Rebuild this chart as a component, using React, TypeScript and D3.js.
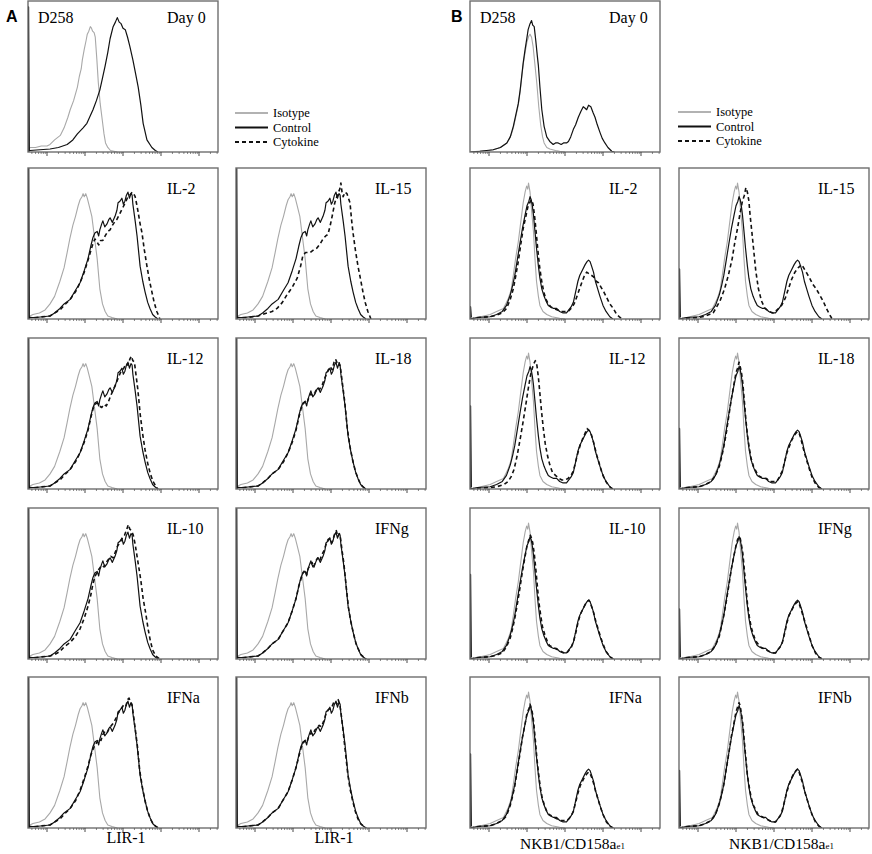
import * as d3 from 'd3';

type Pt = [number, number]; // [log10 fluorescence, % of max count]

// ---- panel A: LIR-1 ----
const lirIsoDay0: Pt[] = [[-0.5,0],[-0.45,3],[-0.3,3],[-0.15,4],[0,4],[0.08,5],[0.2,8],[0.35,11],[0.45,16],[0.55,23],[0.61,28],[0.7,34],[0.8,43],[0.85,50],[0.9,55],[0.93,61],[0.98,68],[1.03,74],[1.06,78],[1.1,80],[1.14,83],[1.17,82],[1.2,80],[1.24,79],[1.27,76],[1.31,62],[1.35,46],[1.4,32],[1.46,20],[1.5,12],[1.54,6],[1.6,3],[1.67,1],[1.85,0]];
const lirCtrlDay0: Pt[] = [[-0.5,0],[-0.45,1],[0.08,2],[0.3,3],[0.53,5],[0.68,8],[0.8,12],[0.95,16],[1.05,19],[1.21,28],[1.3,34],[1.39,41],[1.46,49],[1.53,57],[1.6,66],[1.66,75],[1.74,83],[1.8,86],[1.85,89],[1.9,86],[1.95,85],[2.0,82],[2.06,81],[2.12,76],[2.18,70],[2.26,61],[2.33,52],[2.4,43],[2.47,31],[2.53,19],[2.63,8],[2.76,3],[2.85,1],[2.92,0]];
const lirIso: Pt[] = [[-0.5,0],[-0.45,2],[-0.37,3],[-0.2,4],[-0.05,6],[0.08,10],[0.2,15],[0.34,25],[0.45,34],[0.53,44],[0.6,53],[0.68,62],[0.75,68],[0.82,75],[0.87,79],[0.92,81],[0.95,83],[0.98,81],[1.02,83],[1.06,80],[1.1,76],[1.18,68],[1.25,54],[1.32,40],[1.39,20],[1.46,10],[1.53,5],[1.6,2],[1.71,1],[1.85,0]];
const lirCtrl: Pt[] = [[-0.5,0],[-0.45,1],[-0.3,1],[0.08,2],[0.2,4],[0.34,7],[0.45,10],[0.61,13],[0.75,19],[0.87,24],[0.98,32],[1.08,40],[1.15,48],[1.21,54],[1.26,57],[1.32,58],[1.36,55],[1.39,59],[1.44,63],[1.47,65],[1.52,61],[1.58,63],[1.63,66],[1.66,67],[1.72,64],[1.79,68],[1.84,72],[1.87,77],[1.92,78],[1.97,80],[2.01,76],[2.05,78],[2.09,82],[2.13,84],[2.17,80],[2.21,83],[2.24,82],[2.26,76],[2.32,65],[2.37,55],[2.45,35],[2.52,25],[2.58,18],[2.65,11],[2.71,7],[2.78,3],[2.84,1.5],[2.92,0]];
const lirIL2: Pt[] = [[-0.5,0],[-0.45,1],[-0.3,1],[0.08,2],[0.2,4],[0.34,6],[0.45,9],[0.61,13],[0.75,18],[0.87,24],[0.98,31],[1.08,39],[1.15,45],[1.21,50],[1.26,53],[1.32,51],[1.36,49],[1.41,52],[1.47,52],[1.53,55],[1.6,58],[1.66,59],[1.72,62],[1.8,65],[1.84,66],[1.92,70],[2.0,74],[2.06,77],[2.13,81],[2.18,82],[2.24,84],[2.28,83],[2.32,81],[2.36,76],[2.39,72],[2.45,63],[2.5,57],[2.56,46],[2.63,35],[2.7,25],[2.76,18],[2.82,11],[2.89,5],[2.94,2],[2.97,0]];
const lirIL15: Pt[] = [[-0.5,0],[-0.45,1],[-0.2,1],[0.08,2],[0.32,4],[0.45,5],[0.58,7],[0.72,11],[0.84,16],[0.98,21],[1.11,27],[1.2,35],[1.26,42],[1.33,44],[1.45,44],[1.55,46],[1.63,47],[1.72,50],[1.79,53],[1.86,55],[1.92,56],[1.98,62],[2.03,68],[2.1,77],[2.18,83],[2.23,86],[2.26,90],[2.29,84],[2.32,81],[2.37,84],[2.42,83],[2.46,80],[2.5,77],[2.54,66],[2.58,57],[2.64,46],[2.71,35],[2.78,26],[2.84,18],[2.9,11],[2.97,5],[3.02,2],[3.05,0]];
const lirIL12: Pt[] = [[-0.5,0],[-0.45,1],[-0.3,1],[0.08,2],[0.2,4],[0.34,6],[0.45,9],[0.61,13],[0.75,18],[0.87,24],[0.98,31],[1.08,39],[1.15,47],[1.21,53],[1.26,56],[1.32,57],[1.38,55],[1.44,54],[1.5,56],[1.56,55],[1.62,58],[1.68,62],[1.75,66],[1.82,70],[1.88,74],[1.95,78],[2.02,80],[2.08,83],[2.13,82],[2.18,86],[2.22,88],[2.26,85],[2.3,84],[2.34,76],[2.39,66],[2.45,50],[2.52,36],[2.58,26],[2.65,17],[2.72,10],[2.79,5],[2.86,2],[2.92,0]];
const lirIL18: Pt[] = [[-0.5,0],[-0.45,1],[-0.3,1],[0.08,2],[0.2,4],[0.34,7],[0.45,10],[0.61,13],[0.75,18],[0.87,24],[0.98,31],[1.08,39],[1.15,47],[1.21,53],[1.26,56],[1.32,58],[1.37,57],[1.41,60],[1.46,63],[1.52,62],[1.58,64],[1.64,67],[1.7,66],[1.77,69],[1.83,73],[1.88,76],[1.93,79],[1.98,81],[2.03,79],[2.08,84],[2.12,86],[2.17,83],[2.21,84],[2.25,80],[2.3,70],[2.36,58],[2.43,40],[2.5,28],[2.57,19],[2.64,12],[2.71,7],[2.78,3],[2.86,1],[2.94,0]];
const lirIL10: Pt[] = [[-0.5,0],[-0.45,1],[-0.3,1],[0.08,2],[0.2,3],[0.34,5],[0.45,8],[0.61,11],[0.75,15],[0.87,20],[0.98,27],[1.08,35],[1.15,42],[1.21,50],[1.27,55],[1.33,58],[1.38,60],[1.44,62],[1.5,61],[1.56,64],[1.62,66],[1.68,68],[1.74,67],[1.8,71],[1.86,75],[1.92,77],[1.98,80],[2.04,82],[2.1,86],[2.14,89],[2.18,86],[2.22,85],[2.27,82],[2.32,76],[2.37,68],[2.42,60],[2.47,52],[2.53,40],[2.6,30],[2.66,20],[2.72,12],[2.78,6],[2.86,2],[2.97,0]];
const lirIFNg: Pt[] = [[-0.5,0],[-0.45,1],[-0.3,1],[0.08,2],[0.2,4],[0.34,7],[0.45,10],[0.61,13],[0.75,19],[0.87,24],[0.98,32],[1.08,40],[1.15,48],[1.21,53],[1.26,57],[1.32,59],[1.36,56],[1.4,60],[1.45,62],[1.5,64],[1.55,61],[1.6,65],[1.65,67],[1.7,65],[1.76,69],[1.82,72],[1.87,76],[1.92,79],[1.97,80],[2.02,77],[2.06,80],[2.1,83],[2.14,85],[2.18,81],[2.22,83],[2.25,80],[2.29,72],[2.34,63],[2.4,48],[2.46,34],[2.52,25],[2.59,17],[2.66,10],[2.73,6],[2.8,2.5],[2.87,1],[2.93,0]];
const lirIFNa: Pt[] = [[-0.5,0],[-0.45,1],[-0.3,1],[0.08,2],[0.2,4],[0.34,6],[0.45,9],[0.61,13],[0.75,18],[0.87,25],[0.98,33],[1.08,41],[1.15,48],[1.21,52],[1.26,55],[1.32,57],[1.37,59],[1.42,58],[1.47,62],[1.53,64],[1.58,63],[1.64,66],[1.7,68],[1.76,70],[1.82,73],[1.87,76],[1.93,78],[1.98,80],[2.03,82],[2.08,81],[2.12,85],[2.16,86],[2.2,83],[2.24,81],[2.28,74],[2.33,64],[2.38,54],[2.44,38],[2.51,27],[2.58,18],[2.65,11],[2.72,6],[2.8,2.5],[2.87,1],[2.93,0]];
const lirIFNb: Pt[] = [[-0.5,0],[-0.45,1],[-0.3,1],[0.08,2],[0.2,4],[0.34,7],[0.45,10],[0.61,13],[0.75,19],[0.87,24],[0.98,32],[1.08,40],[1.15,47],[1.21,53],[1.26,56],[1.32,58],[1.37,57],[1.42,61],[1.47,63],[1.52,62],[1.58,65],[1.63,66],[1.69,68],[1.75,67],[1.81,71],[1.86,75],[1.92,78],[1.97,79],[2.02,80],[2.07,83],[2.11,84],[2.15,82],[2.19,85],[2.23,82],[2.27,75],[2.32,64],[2.38,50],[2.44,36],[2.5,26],[2.57,18],[2.64,11],[2.71,6],[2.79,2.5],[2.87,1],[2.93,0]];

// ---- panel B: NKB1 ----
const nkbIsoDay0: Pt[] = [[-0.5,0],[-0.3,0.5],[0,1],[0.11,1.5],[0.3,3],[0.47,6],[0.58,11],[0.64,16],[0.72,25],[0.77,31],[0.82,40],[0.86,49],[0.9,58],[0.95,66],[1.0,73],[1.05,77],[1.08,78],[1.12,76],[1.16,70],[1.2,60],[1.26,45],[1.31,30],[1.36,18],[1.41,10],[1.45,6],[1.52,3],[1.6,2],[1.75,1],[1.86,0.5],[2.0,0]];
const nkbCtrlDay0: Pt[] = [[-0.5,0],[-0.24,0.5],[0.11,1.5],[0.3,3],[0.47,6],[0.56,10],[0.64,17],[0.7,24],[0.77,32],[0.82,41],[0.86,50],[0.9,59],[0.95,68],[1.0,76],[1.03,81],[1.08,85],[1.12,87],[1.15,84],[1.19,83],[1.23,74],[1.27,64],[1.3,57],[1.34,43],[1.39,28],[1.45,17],[1.52,10],[1.6,7],[1.69,5],[1.75,6],[1.82,6],[1.9,5],[1.96,6],[2.04,6],[2.09,7],[2.15,10],[2.22,15],[2.28,18],[2.35,23],[2.42,27],[2.48,30],[2.53,29],[2.57,28],[2.62,31],[2.68,30],[2.74,26],[2.79,23],[2.85,18],[2.92,13],[2.98,9],[3.05,6],[3.13,3],[3.23,0.5],[3.3,0]];
const nkbIso: Pt[] = [[-0.5,0],[-0.3,1],[0.03,3],[0.2,5],[0.38,7],[0.5,13],[0.58,19],[0.64,29],[0.7,40],[0.77,51],[0.82,61],[0.86,69],[0.9,77],[0.95,84],[0.99,88],[1.02,86],[1.04,90],[1.08,84],[1.12,72],[1.17,58],[1.21,40],[1.25,25],[1.3,15],[1.34,9],[1.42,5],[1.52,3],[1.65,1.5],[1.86,0.5],[2.0,0]];
const nkbCtrl: Pt[] = [[-0.5,0],[-0.3,1],[0.03,1.5],[0.2,3],[0.35,5],[0.46,9],[0.56,16],[0.62,22],[0.68,29],[0.75,40],[0.82,51],[0.88,60],[0.95,69],[1.0,75],[1.05,78],[1.08,81],[1.11,79],[1.14,75],[1.17,69],[1.21,58],[1.25,47],[1.3,35],[1.34,27],[1.39,20],[1.45,15],[1.5,12],[1.56,9],[1.62,8],[1.7,7],[1.78,7],[1.86,5],[1.95,4],[2.04,4],[2.1,6],[2.16,8],[2.22,11],[2.28,18],[2.34,25],[2.39,29],[2.45,32],[2.53,36],[2.58,38],[2.62,39],[2.66,38],[2.7,35],[2.75,31],[2.8,25],[2.86,20],[2.92,15],[3.0,9],[3.08,5],[3.18,1.5],[3.26,0]];
const nkbIL2: Pt[] = [[-0.5,0],[-0.3,1],[0.03,1.5],[0.2,2.5],[0.35,4],[0.46,7],[0.56,13],[0.64,20],[0.7,28],[0.77,38],[0.84,50],[0.9,60],[0.97,68],[1.02,74],[1.07,77],[1.12,79],[1.16,76],[1.2,68],[1.24,58],[1.28,47],[1.33,35],[1.38,26],[1.44,18],[1.5,13],[1.56,10],[1.63,8],[1.7,7],[1.8,6],[1.9,5],[2.0,5],[2.08,5],[2.16,7],[2.24,10],[2.3,14],[2.37,19],[2.44,24],[2.5,28],[2.57,31],[2.63,30],[2.69,29],[2.75,28],[2.82,25],[2.88,24],[2.95,21],[3.02,18],[3.1,14],[3.18,10],[3.27,7],[3.36,3],[3.45,1],[3.52,0]];
const nkbIL15: Pt[] = [[-0.5,0],[-0.3,0.5],[0.03,1],[0.2,2],[0.4,4],[0.58,12],[0.7,20],[0.8,29],[0.9,40],[0.97,51],[1.04,60],[1.1,69],[1.16,77],[1.22,82],[1.26,87],[1.3,84],[1.34,78],[1.37,69],[1.42,57],[1.46,47],[1.52,32],[1.59,20],[1.67,12],[1.76,7],[1.86,5],[1.98,4],[2.08,6],[2.2,9],[2.3,14],[2.38,20],[2.46,26],[2.55,31],[2.64,34],[2.73,36],[2.8,33],[2.87,30],[2.94,27],[3.02,23],[3.11,20],[3.2,16],[3.29,12],[3.38,7],[3.46,3],[3.52,0.5],[3.58,0]];
const nkbIL12: Pt[] = [[-0.5,0],[-0.3,0.5],[0.03,1],[0.2,1.5],[0.4,3],[0.5,5],[0.58,8],[0.66,13],[0.74,22],[0.82,33],[0.9,45],[0.97,56],[1.03,66],[1.09,75],[1.14,80],[1.18,83],[1.22,85],[1.26,82],[1.3,74],[1.34,63],[1.38,52],[1.43,40],[1.48,30],[1.54,22],[1.6,16],[1.67,11],[1.75,9],[1.84,7],[1.92,6],[2.0,6],[2.08,7],[2.16,9],[2.22,12],[2.28,18],[2.34,24],[2.4,29],[2.46,33],[2.53,37],[2.58,40],[2.63,39],[2.68,37],[2.73,33],[2.78,28],[2.84,22],[2.9,17],[2.97,11],[3.05,6],[3.14,2.5],[3.22,0.5],[3.28,0]];
const nkbIL18: Pt[] = [[-0.5,0],[-0.3,1],[0.03,1.5],[0.2,3],[0.35,5],[0.46,9],[0.56,15],[0.62,21],[0.68,28],[0.75,38],[0.82,50],[0.88,60],[0.95,70],[1.0,77],[1.04,80],[1.08,84],[1.12,80],[1.15,76],[1.18,70],[1.22,58],[1.26,46],[1.3,36],[1.35,27],[1.4,20],[1.46,15],[1.52,12],[1.58,9],[1.65,8],[1.72,7],[1.8,7],[1.88,5],[1.96,5],[2.04,5],[2.1,6],[2.16,9],[2.22,12],[2.28,18],[2.34,24],[2.4,28],[2.46,32],[2.52,35],[2.58,37],[2.62,38],[2.66,37],[2.7,34],[2.75,29],[2.8,24],[2.86,19],[2.92,14],[3.0,8],[3.08,4],[3.18,1],[3.26,0]];
const nkbIL10: Pt[] = [[-0.5,0],[-0.3,1],[0.03,1.5],[0.2,2.5],[0.35,4],[0.46,8],[0.56,14],[0.62,20],[0.68,27],[0.75,37],[0.82,48],[0.88,58],[0.95,68],[1.0,75],[1.05,79],[1.09,82],[1.12,80],[1.15,77],[1.19,70],[1.23,60],[1.27,49],[1.31,38],[1.36,29],[1.41,21],[1.47,16],[1.53,12],[1.59,9],[1.66,8],[1.74,7],[1.82,6],[1.9,5],[1.98,4],[2.05,4],[2.11,6],[2.17,8],[2.23,12],[2.29,18],[2.35,25],[2.41,30],[2.47,33],[2.53,36],[2.58,38],[2.63,39],[2.67,37],[2.71,34],[2.76,30],[2.81,25],[2.87,20],[2.93,15],[3.0,10],[3.08,5],[3.18,1.5],[3.27,0]];
const nkbIFNg: Pt[] = [[-0.5,0],[-0.3,1],[0.03,1.5],[0.2,3],[0.35,5],[0.46,9],[0.56,15],[0.62,22],[0.68,29],[0.75,39],[0.82,50],[0.88,60],[0.95,69],[1.0,75],[1.04,79],[1.08,81],[1.11,80],[1.14,76],[1.18,70],[1.22,59],[1.26,48],[1.3,37],[1.35,28],[1.4,21],[1.46,16],[1.52,12],[1.58,10],[1.64,8],[1.72,7],[1.8,6],[1.88,5],[1.96,4],[2.04,4],[2.1,6],[2.16,8],[2.22,11],[2.28,17],[2.34,24],[2.4,29],[2.46,32],[2.52,35],[2.58,37],[2.63,38],[2.67,36],[2.71,33],[2.76,29],[2.81,25],[2.87,20],[2.93,15],[3.0,9],[3.09,4],[3.19,1],[3.27,0]];
const nkbIFNa: Pt[] = [[-0.5,0],[-0.3,1],[0.03,1.5],[0.2,3],[0.35,5],[0.46,8],[0.56,15],[0.62,21],[0.68,28],[0.75,39],[0.82,50],[0.88,60],[0.95,69],[1.0,76],[1.05,79],[1.08,82],[1.12,79],[1.15,75],[1.18,69],[1.22,58],[1.26,46],[1.31,35],[1.35,27],[1.4,20],[1.46,15],[1.52,11],[1.58,9],[1.65,8],[1.72,7],[1.8,6],[1.88,5],[1.96,5],[2.04,5],[2.1,6],[2.16,8],[2.22,11],[2.28,17],[2.34,23],[2.4,28],[2.46,31],[2.52,34],[2.58,36],[2.62,37],[2.66,36],[2.71,33],[2.76,29],[2.81,24],[2.87,19],[2.93,14],[3.0,9],[3.09,4],[3.19,1],[3.27,0]];
const nkbIFNb: Pt[] = [[-0.5,0],[-0.3,1],[0.03,1.5],[0.2,3],[0.35,5],[0.46,9],[0.56,16],[0.62,22],[0.68,29],[0.75,40],[0.82,51],[0.88,61],[0.95,70],[1.0,77],[1.04,80],[1.08,83],[1.11,81],[1.14,76],[1.18,69],[1.22,57],[1.26,46],[1.3,35],[1.35,27],[1.4,20],[1.46,15],[1.52,12],[1.58,9],[1.65,8],[1.72,7],[1.8,6],[1.88,5],[1.96,4],[2.04,4],[2.1,6],[2.16,8],[2.22,12],[2.28,18],[2.34,24],[2.4,29],[2.46,33],[2.52,36],[2.58,38],[2.62,39],[2.66,37],[2.71,33],[2.76,29],[2.81,24],[2.87,19],[2.93,14],[3.0,9],[3.09,4],[3.19,1],[3.27,0]];

// pile-up in the lowest channel, per panel (Day 0 first, then cytokines)
const lirSpikes = [96, 130, 130, 130, 130, 130, 130, 130, 130];
const nkbSpikes = [0, 8, 33, 55, 40, 56, 33, 49, 38];

const cytokines = ['IL-2', 'IL-15', 'IL-12', 'IL-18', 'IL-10', 'IFNg', 'IFNa', 'IFNb'];
const lirCyt = [lirIL2, lirIL15, lirIL12, lirIL18, lirIL10, lirIFNg, lirIFNa, lirIFNb];
const nkbCyt = [nkbIL2, nkbIL15, nkbIL12, nkbIL18, nkbIL10, nkbIFNg, nkbIFNa, nkbIFNb];
const legendItems = ['Isotype', 'Control', 'Cytokine'];

// layout
const colLeft = [28, 236, 470, 679];
const rowTop = [1, 168, 338, 508, 677];
const panelW = 190;
const panelH = 151;
const serif = '"Liberation Serif", "Times New Roman", serif';

interface Panel {
  key: string;
  col: number;
  row: number;
  day0: boolean;
  tag: string;
  iso: Pt[];
  ctrl: Pt[];
  cyt: Pt[] | null;
  spike: number;
}

const panels: Panel[] = [];
[
  { base: 0, iso0: lirIsoDay0, ctrl0: lirCtrlDay0, iso: lirIso, ctrl: lirCtrl, cyt: lirCyt, spikes: lirSpikes },
  { base: 2, iso0: nkbIsoDay0, ctrl0: nkbCtrlDay0, iso: nkbIso, ctrl: nkbCtrl, cyt: nkbCyt, spikes: nkbSpikes },
].forEach((s) => {
  panels.push({ key: `d0-${s.base}`, col: s.base, row: 0, day0: true, tag: 'Day 0', iso: s.iso0, ctrl: s.ctrl0, cyt: null, spike: s.spikes[0] });
  cytokines.forEach((c, i) => {
    panels.push({
      key: `${c}-${s.base}`, col: s.base + (i % 2), row: 1 + Math.floor(i / 2), day0: false, tag: c,
      iso: s.iso, ctrl: s.ctrl, cyt: s.cyt[i], spike: s.spikes[i + 1],
    });
  });
});

const majorTicks = d3.range(0, 5);
const minorTicks = d3.range(-1, 5).flatMap((k) => d3.range(2, 10).map((m) => k + Math.log10(m))).filter((v) => v > -0.5 && v < 4.5);

function Histo({ p }: { p: Panel }) {
  const left = colLeft[p.col];
  const top = rowTop[p.row];
  const x = d3.scaleLinear().domain([-0.5, 4.5]).range([left, left + panelW]);
  const y = d3.scaleLinear().domain([0, 100]).range([top + panelH, top]);
  const line = d3.line<Pt>().x((d) => x(d[0])).y((d) => y(d[1]));
  const spikePts: Pt[] = [[-0.5, 0], [-0.49, p.spike], [-0.47, 1]];
  const clipId = `clip-${p.key}`;
  return (
    <g>
      <clipPath id={clipId}>
        <rect x={left} y={top} width={panelW} height={panelH} />
      </clipPath>
      <g clipPath={`url(#${clipId})`} fill="none" strokeLinejoin="round">
        <path d={line(p.iso) ?? ''} stroke="#a8a8a8" strokeWidth={1.1} />
        <path d={line(p.ctrl) ?? ''} stroke="#111" strokeWidth={1.2} />
        {p.cyt && <path d={line(p.cyt) ?? ''} stroke="#111" strokeWidth={1.6} strokeDasharray="4 3" />}
        {p.spike > 0 && <path d={line(spikePts) ?? ''} stroke="#111" strokeWidth={1.6} />}
      </g>
      <rect x={left} y={top} width={panelW} height={panelH} fill="none" stroke="#6e6e6e" strokeWidth={1.4} />
      {majorTicks.map((t) => (
        <line key={`M${t}`} x1={x(t)} x2={x(t)} y1={top + panelH} y2={top + panelH + 4} stroke="#333" strokeWidth={0.9} />
      ))}
      {minorTicks.map((t) => (
        <line key={`m${t}`} x1={x(t)} x2={x(t)} y1={top + panelH} y2={top + panelH + 2} stroke="#555" strokeWidth={0.7} />
      ))}
      {p.day0 && (
        <text x={left + 10} y={top + 22} fontSize={16} fontFamily={serif}>D258</text>
      )}
      <text x={left + 139} y={top + (p.day0 ? 22 : 26)} fontSize={16} fontFamily={serif}>{p.tag}</text>
    </g>
  );
}

function Legend({ x0, y0 }: { x0: number; y0: number }) {
  const styles = [
    { stroke: '#999', width: 1.6, dash: undefined },
    { stroke: '#111', width: 2.2, dash: undefined },
    { stroke: '#111', width: 2, dash: '4 3' },
  ];
  return (
    <g>
      {legendItems.map((name, i) => (
        <g key={name} transform={`translate(${x0},${y0 + i * 14.5})`}>
          <line x1={0} x2={33} y1={0} y2={0} stroke={styles[i].stroke} strokeWidth={styles[i].width} strokeDasharray={styles[i].dash} />
          <text x={38} y={4} fontSize={12.5} fontFamily={serif}>{name}</text>
        </g>
      ))}
    </g>
  );
}

export default function App() {
  return (
    <svg width={872} height={854} style={{ position: 'absolute', left: 0, top: 0, background: '#fff' }}>
      <text x={6} y={22} fontSize={16} fontWeight="bold" fontFamily="Arial, 'Liberation Sans', sans-serif">A</text>
      <text x={451} y={22} fontSize={16} fontWeight="bold" fontFamily="Arial, 'Liberation Sans', sans-serif">B</text>
      {panels.map((p) => <Histo key={p.key} p={p} />)}
      <Legend x0={235} y0={113} />
      <Legend x0={678} y0={112} />
      <text x={colLeft[0] + panelW / 2 + 3} y={843} fontSize={16} fontFamily={serif} textAnchor="middle">LIR-1</text>
      <text x={colLeft[1] + panelW / 2 + 3} y={843} fontSize={16} fontFamily={serif} textAnchor="middle">LIR-1</text>
      {[2, 3].map((c) => (
        <text key={c} x={colLeft[c] + 50} y={849} fontSize={15.5} fontFamily={serif}>
          NKB1/CD158a<tspan fontSize={9}>e1</tspan>
        </text>
      ))}
    </svg>
  );
}
